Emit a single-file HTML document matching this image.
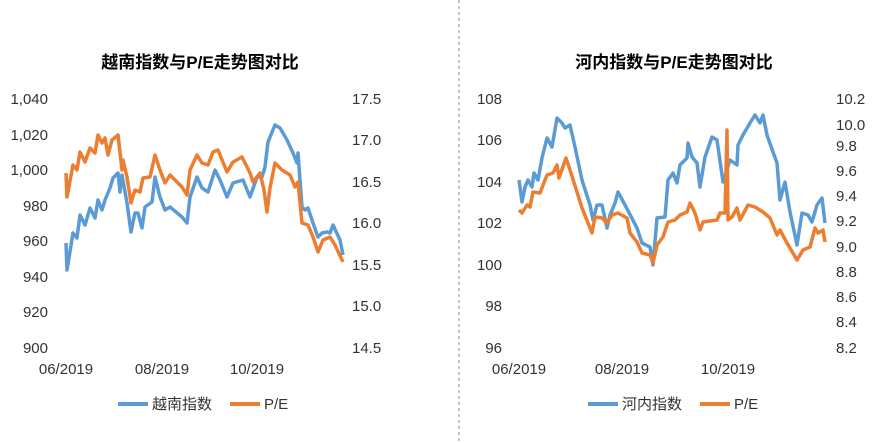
<!DOCTYPE html>
<html><head><meta charset="utf-8"><style>
html,body{margin:0;padding:0;background:#fff;}
svg{display:block;font-family:"Liberation Sans","Noto Sans CJK SC",sans-serif;}
</style></head><body>
<svg width="893" height="443" viewBox="0 0 893 443" xmlns="http://www.w3.org/2000/svg">
<rect width="893" height="443" fill="#fff"/>
<line x1="459" y1="0" x2="459" y2="443" stroke="#888" stroke-dasharray="3,3" stroke-width="1"/>
<g font-size="15" fill="#333">
<text x="200" y="68" text-anchor="middle" font-weight="bold" font-size="17" fill="#000">越南指数与P/E走势图对比</text>
<g text-anchor="end">
<text x="48" y="104">1,040</text><text x="48" y="140">1,020</text><text x="48" y="175">1,000</text>
<text x="48" y="211">980</text><text x="48" y="246">960</text><text x="48" y="282">940</text>
<text x="48" y="317">920</text><text x="48" y="353">900</text>
</g>
<g text-anchor="start">
<text x="352" y="104">17.5</text><text x="352" y="145">17.0</text><text x="352" y="187">16.5</text>
<text x="352" y="228">16.0</text><text x="352" y="270">15.5</text><text x="352" y="311">15.0</text>
<text x="352" y="353">14.5</text>
</g>
<g text-anchor="middle">
<text x="66" y="374">06/2019</text><text x="162" y="374">08/2019</text><text x="257" y="374">10/2019</text>
</g>
<line x1="118" y1="404" x2="148" y2="404" stroke="#5B9BD5" stroke-width="4"/>
<text x="152" y="409">越南指数</text>
<line x1="230" y1="404" x2="260" y2="404" stroke="#ED7D31" stroke-width="4"/>
<text x="264" y="409">P/E</text>

<text x="674" y="68" text-anchor="middle" font-weight="bold" font-size="17" fill="#000">河内指数与P/E走势图对比</text>
<g text-anchor="end">
<text x="502" y="104">108</text><text x="502" y="145">106</text><text x="502" y="187">104</text>
<text x="502" y="228">102</text><text x="502" y="270">100</text><text x="502" y="311">98</text>
<text x="502" y="353">96</text>
</g>
<g text-anchor="start">
<text x="836" y="104">10.2</text><text x="836" y="130">10.0</text><text x="836" y="151">9.8</text>
<text x="836" y="176">9.6</text><text x="836" y="201">9.4</text><text x="836" y="226">9.2</text>
<text x="836" y="252">9.0</text><text x="836" y="277">8.8</text><text x="836" y="302">8.6</text>
<text x="836" y="327">8.4</text><text x="836" y="353">8.2</text>
</g>
<g text-anchor="middle">
<text x="519" y="374">06/2019</text><text x="622" y="374">08/2019</text><text x="728" y="374">10/2019</text>
</g>
<line x1="588" y1="404" x2="618" y2="404" stroke="#5B9BD5" stroke-width="4"/>
<text x="622" y="409">河内指数</text>
<line x1="700" y1="404" x2="730" y2="404" stroke="#ED7D31" stroke-width="4"/>
<text x="734" y="409">P/E</text>
</g>
<g fill="none" stroke-width="3.5" stroke-linejoin="round">
<polyline stroke="#5B9BD5" points="66,243 67,270 73,233 77,238 80,215 85,225 90,208 95,218 98,200 102,210 105,200 110,188 113,178 118,173 120,192 122,175 127,203 131,232 135,213 138,213 142,228 145,207 152,202 155,177 160,197 165,210 170,207 182,217 187,223 190,197 197,177 202,188 208,192 215,170 220,180 227,197 233,183 243,180 250,197 257,177 262,177 265,167 268,142 275,125 280,128 287,140 293,153 297,163 298,153 302,207 305,210 308,208 313,223 318,237 322,233 327,232 330,233 333,225 340,240 343,255"/>
<polyline stroke="#ED7D31" points="66,173 67,197 73,165 77,170 80,152 85,162 90,148 95,153 98,135 102,143 105,138 108,155 112,140 118,135 122,170 123,160 127,177 131,203 135,190 140,192 143,178 150,177 155,155 160,170 165,183 170,175 182,187 187,195 190,170 197,155 202,163 208,165 213,152 218,150 227,172 233,162 242,157 250,173 253,182 260,173 264,190 267,212 270,188 275,163 282,170 290,175 295,187 298,182 302,223 308,225 313,237 318,252 323,240 330,237 335,245 343,262"/>
<polyline stroke="#5B9BD5" points="519,180 522,202 525,187 528,180 532,187 534,173 538,180 542,158 547,138 552,147 557,118 562,123 565,128 570,125 575,147 582,180 590,205 593,220 597,205 602,205 607,228 610,215 615,203 618,192 625,205 637,228 642,243 650,247 653,265 657,218 665,217 668,180 673,173 677,183 680,165 687,158 688,143 692,157 697,163 700,187 705,157 712,137 717,140 723,182 730,160 737,165 738,145 743,135 750,123 755,115 760,123 763,115 767,135 773,152 777,163 780,200 785,182 790,212 797,245 802,213 808,215 812,222 817,205 822,198 825,223"/>
<polyline stroke="#ED7D31" points="519,210 522,213 527,205 530,207 533,192 540,193 547,175 553,173 557,165 559,178 566,158 570,170 577,192 582,208 592,233 595,217 602,218 607,223 612,215 618,213 627,218 630,233 637,242 642,253 650,255 653,263 657,245 663,237 668,222 675,220 680,215 687,212 690,203 695,213 700,230 703,222 717,220 720,213 725,213 727,130 728,220 732,217 737,208 740,220 748,205 755,207 763,212 770,218 777,235 780,230 787,243 797,260 803,250 810,247 815,228 818,233 823,230 825,242"/>
</g>
</svg>
</body></html>
